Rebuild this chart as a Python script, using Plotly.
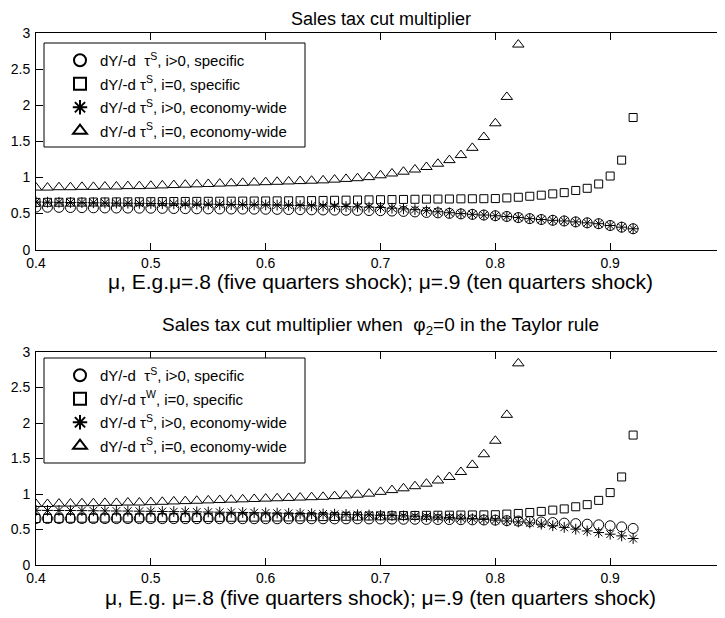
import plotly.graph_objects as go

# ---------------- data ----------------
mu = [0.40, 0.41, 0.42, 0.43, 0.44, 0.45, 0.46, 0.47, 0.48, 0.49,
      0.50, 0.51, 0.52, 0.53, 0.54, 0.55, 0.56, 0.57, 0.58, 0.59,
      0.60, 0.61, 0.62, 0.63, 0.64, 0.65, 0.66, 0.67, 0.68, 0.69,
      0.70, 0.71, 0.72, 0.73, 0.74, 0.75, 0.76, 0.77, 0.78, 0.79,
      0.80, 0.81, 0.82, 0.83, 0.84, 0.85, 0.86, 0.87, 0.88, 0.89,
      0.90, 0.91, 0.92]

# top panel
top_pos_specific = [0.590, 0.588, 0.586, 0.584, 0.582, 0.580, 0.578, 0.577, 0.576, 0.575,
                    0.574, 0.572, 0.570, 0.568, 0.566, 0.565, 0.564, 0.563, 0.562, 0.561,
                    0.560, 0.558, 0.556, 0.554, 0.552, 0.550, 0.548, 0.546, 0.544, 0.542,
                    0.540, 0.535, 0.530, 0.523, 0.516, 0.510, 0.503, 0.496, 0.489, 0.480,
                    0.470, 0.460, 0.445, 0.430, 0.418, 0.407, 0.398, 0.385, 0.372, 0.360,
                    0.335, 0.312, 0.290]
top_pos_economy = [0.660, 0.658, 0.656, 0.654, 0.652, 0.650, 0.648, 0.646, 0.644, 0.642,
                   0.640, 0.638, 0.636, 0.634, 0.632, 0.630, 0.628, 0.626, 0.624, 0.622,
                   0.620, 0.617, 0.614, 0.611, 0.608, 0.605, 0.601, 0.597, 0.593, 0.589,
                   0.585, 0.575, 0.565, 0.555, 0.540, 0.525, 0.512, 0.500, 0.490, 0.480,
                   0.470, 0.460, 0.445, 0.430, 0.418, 0.407, 0.398, 0.385, 0.372, 0.360,
                   0.335, 0.312, 0.290]
zlb_specific = [0.655, 0.656, 0.657, 0.658, 0.659, 0.660, 0.661, 0.662, 0.663, 0.664,
                0.665, 0.666, 0.667, 0.668, 0.669, 0.670, 0.671, 0.672, 0.673, 0.674,
                0.675, 0.676, 0.677, 0.678, 0.680, 0.682, 0.684, 0.686, 0.688, 0.690,
                0.692, 0.694, 0.696, 0.698, 0.700, 0.701, 0.702, 0.704, 0.705, 0.706,
                0.708, 0.717, 0.726, 0.740, 0.755, 0.773, 0.790, 0.820, 0.850, 0.910,
                1.020, 1.240, 1.830]
mu_zlb_economy = mu[:43]
zlb_economy = [0.860, 0.860, 0.865, 0.865, 0.870, 0.870, 0.875, 0.875, 0.880, 0.880,
               0.885, 0.890, 0.895, 0.900, 0.905, 0.910, 0.915, 0.920, 0.925, 0.930,
               0.935, 0.940, 0.945, 0.950, 0.955, 0.960, 0.970, 0.980, 0.990, 1.005,
               1.030, 1.055, 1.080, 1.110, 1.145, 1.190, 1.240, 1.310, 1.410, 1.560,
               1.750, 2.115, 2.840]

# bottom panel (phi_2 = 0)
bot_pos_specific = [0.655, 0.655, 0.655, 0.655, 0.655, 0.655, 0.654, 0.654, 0.654, 0.654,
                    0.654, 0.653, 0.653, 0.653, 0.653, 0.653, 0.652, 0.652, 0.652, 0.652,
                    0.652, 0.651, 0.651, 0.651, 0.651, 0.651, 0.650, 0.650, 0.650, 0.649,
                    0.648, 0.647, 0.645, 0.644, 0.642, 0.641, 0.640, 0.638, 0.636, 0.634,
                    0.632, 0.625, 0.619, 0.613, 0.606, 0.598, 0.590, 0.583, 0.575, 0.566,
                    0.553, 0.537, 0.515]
bot_pos_economy = [0.770, 0.769, 0.768, 0.767, 0.766, 0.764, 0.763, 0.761, 0.760, 0.758,
                   0.756, 0.754, 0.752, 0.750, 0.748, 0.746, 0.744, 0.742, 0.740, 0.737,
                   0.734, 0.731, 0.728, 0.725, 0.722, 0.719, 0.716, 0.712, 0.708, 0.704,
                   0.700, 0.696, 0.691, 0.686, 0.680, 0.674, 0.667, 0.660, 0.652, 0.642,
                   0.632, 0.620, 0.607, 0.593, 0.575, 0.553, 0.530, 0.505, 0.480, 0.457,
                   0.434, 0.410, 0.373]

x_ticks = [0.4, 0.5, 0.6, 0.7, 0.8, 0.9, 1.0]
x_tick_labels = ["0.4", "0.5", "0.6", "0.7", "0.8", "0.9", "1"]
y_ticks = [0, 0.5, 1, 1.5, 2, 2.5, 3]
y_tick_labels = ["0", "0.5", "1", "1.5", "2", "2.5", "3"]

top_names = ["dY/-d  τ<sup>S</sup>, i>0, specific",
             "dY/-d τ<sup>S</sup>, i=0, specific",
             "dY/-d τ<sup>S</sup>, i>0, economy-wide",
             "dY/-d τ<sup>S</sup>, i=0, economy-wide"]
bot_names = ["dY/-d  τ<sup>S</sup>, i>0, specific",
             "dY/-d τ<sup>W</sup>, i=0, specific",
             "dY/-d τ<sup>S</sup>, i>0, economy-wide",
             "dY/-d τ<sup>S</sup>, i=0, economy-wide"]

top_title = "Sales tax cut multiplier"
bot_title = "Sales tax cut multiplier when  φ<sub>2</sub>=0 in the Taylor rule"
top_xtitle = "μ, E.g.μ=.8 (five quarters shock); μ=.9 (ten quarters shock)"
bot_xtitle = "μ, E.g. μ=.8 (five quarters shock); μ=.9 (ten quarters shock)"

# ---------------- figure ----------------
FONT = "Liberation Sans, Arial, sans-serif"
OFF = 8                      # default page margin around the plot div
W, H = 725 - OFF, 618 - OFF  # figure fits the window exactly


def px(x):  # page x pixel -> paper fraction
    return (x - OFF) / W


def py(y):  # page y pixel -> paper fraction
    return 1 - (y - OFF) / H


symbols = ["circle-open", "square-open", "asterisk-open", "triangle-up-open"]
sizes = [10, 8, 9, 10]

fig = go.Figure()


def add_panel(series, names, xa, ya, legend, tag):
    for i, ((xs, ys), name, sym, sz) in enumerate(zip(series, names, symbols, sizes)):
        fig.add_trace(go.Scatter(
            x=xs, y=ys, mode="markers", name=name,
            legendgroup=f"{tag}{i}",
            marker=dict(symbol=sym, size=sz, color="black",
                        line=dict(color="black", width=1)),
            xaxis=xa, yaxis=ya, legend=legend, showlegend=True))


add_panel([(mu, top_pos_specific), (mu, zlb_specific), (mu, top_pos_economy),
           (mu_zlb_economy, zlb_economy)], top_names, "x", "y", "legend", "t")
add_panel([(mu, bot_pos_specific), (mu, zlb_specific), (mu, bot_pos_economy),
           (mu_zlb_economy, zlb_economy)], bot_names, "x2", "y2", "legend2", "b")

x_dom = [px(36), 1.0]
top_dom = [py(249.7), py(33)]
bot_dom = [py(565), py(352)]


def xaxis_cfg(anchor, title):
    return dict(domain=x_dom, anchor=anchor, range=[0.4, 1.0], automargin=False,
                tickmode="array", tickvals=x_ticks, ticktext=x_tick_labels,
                ticks="inside", ticklen=7, tickwidth=1, tickcolor="black",
                showline=True, linecolor="black", linewidth=1, mirror="ticks",
                showgrid=False, zeroline=False,
                tickfont=dict(family=FONT, size=14, color="black"),
                title=dict(text=title, font=dict(family=FONT, size=21, color="black"),
                           standoff=1))


def yaxis_cfg(anchor, dom):
    return dict(domain=dom, anchor=anchor, range=[0, 3], automargin=False,
                tickmode="array", tickvals=y_ticks, ticktext=y_tick_labels,
                ticks="inside", ticklen=7, tickwidth=1, tickcolor="black",
                showline=True, linecolor="black", linewidth=1, mirror="ticks",
                showgrid=False, zeroline=False, ticklabelstandoff=2,
                tickfont=dict(family=FONT, size=14, color="black"))


legend_common = dict(bgcolor="rgba(0,0,0,0)", borderwidth=0,
                     font=dict(family=FONT, size=15, color="black"),
                     xanchor="left", yanchor="top", tracegroupgap=1,
                     itemsizing="constant")


def legend_box(y_top, y_bot):
    return dict(type="rect", xref="paper", yref="paper",
                x0=px(44), x1=px(305), y0=py(y_bot), y1=py(y_top),
                line=dict(color="black", width=1), fillcolor="white", layer="above")


fig.update_layout(
    template="none",
    width=W, height=H,
    margin=dict(l=0, r=0, t=0, b=0, autoexpand=False),
    paper_bgcolor="white", plot_bgcolor="white",
    font=dict(family=FONT, size=14, color="black"),
    showlegend=True,
    xaxis=xaxis_cfg("y", top_xtitle),
    yaxis=yaxis_cfg("x", top_dom),
    xaxis2=xaxis_cfg("y2", bot_xtitle),
    yaxis2=yaxis_cfg("x2", bot_dom),
    legend=dict(x=px(60), y=py(44), **legend_common),
    legend2=dict(x=px(60), y=py(359), **legend_common),
    shapes=[legend_box(43, 147), legend_box(358, 463)],
    annotations=[
        dict(text=top_title, x=px(380.5), y=1.0,
             xref="paper", yref="paper", showarrow=False, xanchor="center", yanchor="top",
             borderpad=0, font=dict(family=FONT, size=18, color="black")),
        dict(text=bot_title, x=px(380.5), y=py(326),
             xref="paper", yref="paper", showarrow=False, xanchor="center", yanchor="middle",
             font=dict(family=FONT, size=19, color="black")),
    ],
)

fig.write_html("out.html")
